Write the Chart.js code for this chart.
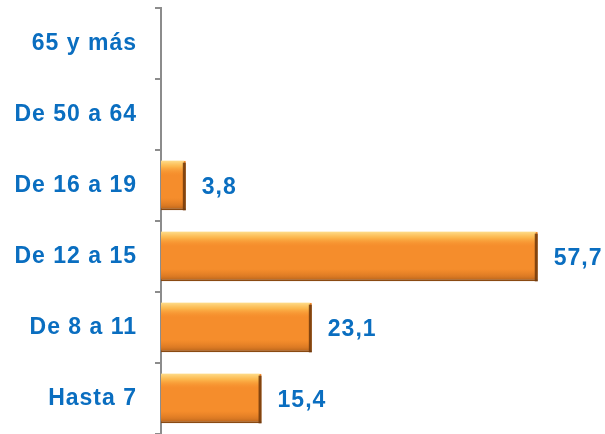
<!DOCTYPE html>
<html>
<head>
<meta charset="utf-8">
<script src="https://cdn.jsdelivr.net/npm/chart.js@4.4.1/dist/chart.umd.min.js"></script>
<style>
  html, body { margin: 0; padding: 0; background: #fff; }
  #wrap { width: 605px; height: 434px; }
</style>
</head>
<body>
<div id="wrap"><canvas id="edad-chart"></canvas></div>
<script>
// categorías (de arriba a abajo) y porcentajes
const categorias = ['65 y más', 'De 50 a 64', 'De 16 a 19', 'De 12 a 15', 'De 8 a 11', 'Hasta 7'];
const valores = [0, 0, 3.8, 57.7, 23.1, 15.4];
const maxEje = 68;

const azul = '#0a6ec0';

// texto algo más espaciado, como en el original
const espaciadoPlugin = {
  id: 'espaciado',
  beforeDraw(chart) {
    chart.ctx.letterSpacing = '1px';
  }
};

// brillo tipo bisel sobre cada barra
const biselPlugin = {
  id: 'bisel',
  afterDatasetsDraw(chart) {
    const ctx = chart.ctx;
    chart.getDatasetMeta(0).data.forEach(function(bar, i) {
      if (!valores[i]) return;
      const top = bar.y - bar.height / 2;
      const left = bar.base;
      const w = bar.x - bar.base;
      const h = bar.height;
      const g = ctx.createLinearGradient(0, top, 0, top + h);
      g.addColorStop(0, 'rgba(255,230,150,0.9)');
      g.addColorStop(0.12, 'rgba(255,200,90,0.7)');
      g.addColorStop(0.3, 'rgba(250,150,50,0)');
      g.addColorStop(0.75, 'rgba(200,100,20,0)');
      g.addColorStop(0.9, 'rgba(170,85,20,0.35)');
      g.addColorStop(1, 'rgba(120,60,10,0.6)');
      ctx.save();
      ctx.fillStyle = g;
      ctx.fillRect(left, top, w - 2, h - 2);
      // borde derecho oscuro
      ctx.fillStyle = 'rgba(110,55,10,0.85)';
      ctx.fillRect(left + w - 3, top + 2, 3, h - 2);
      ctx.restore();
    });
  }
};

// etiquetas de valor a la derecha de las barras
const etiquetasPlugin = {
  id: 'etiquetas',
  afterDatasetsDraw(chart) {
    const ctx = chart.ctx;
    ctx.save();
    ctx.font = 'bold 23px "Liberation Sans", Arial, sans-serif';
    ctx.fillStyle = azul;
    ctx.textBaseline = 'middle';
    chart.getDatasetMeta(0).data.forEach(function(bar, i) {
      if (!valores[i]) return;
      const txt = valores[i].toFixed(1).replace('.', ',');
      ctx.fillText(txt, bar.x + 16, bar.y + 2);
    });
    ctx.restore();
  }
};

const ctx = document.getElementById('edad-chart').getContext('2d');
new Chart(ctx, {
  type: 'bar',
  data: {
    labels: categorias,
    datasets: [{
      data: valores,
      backgroundColor: '#f58d2c',
      borderColor: '#8a4a12',
      borderWidth: { top: 0, left: 0, right: 0, bottom: 2 },
      borderSkipped: 'start',
      barPercentage: 0.7,
      categoryPercentage: 1
    }]
  },
  plugins: [espaciadoPlugin, biselPlugin, etiquetasPlugin],
  options: {
    indexAxis: 'y',
    responsive: true,
    maintainAspectRatio: false,
    animation: false,
    layout: { padding: { top: 8, right: 0, bottom: 0, left: 0 } },
    plugins: {
      legend: { display: false },
      tooltip: { enabled: false }
    },
    scales: {
      x: {
        display: false,
        min: 0,
        max: maxEje
      },
      y: {
        offset: true,
        afterFit: function(scale) {
          scale.width = 161;
          scale.paddingTop = 0;
          scale.paddingBottom = 0;
        },
        border: { display: true, color: '#8c8c8c', width: 2 },
        grid: {
          offset: true,
          drawOnChartArea: false,
          drawTicks: true,
          tickLength: 6,
          color: '#8c8c8c',
          lineWidth: 2
        },
        ticks: {
          color: azul,
          padding: 18,
          font: { family: '"Liberation Sans", Arial, sans-serif', size: 23, weight: 'bold' }
        }
      }
    }
  }
});
</script>
</body>
</html>
